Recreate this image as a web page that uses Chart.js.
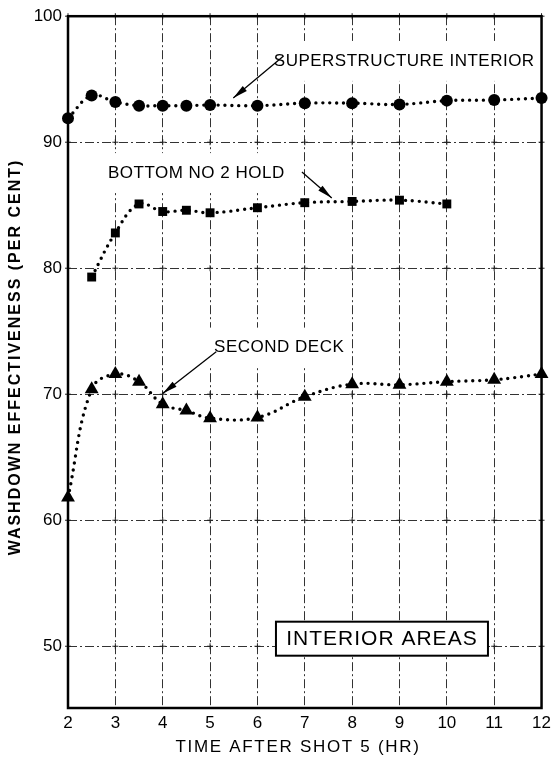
<!DOCTYPE html>
<html lang="en">
<head>
<meta charset="UTF-8">
<title>Washdown Effectiveness - Interior Areas</title>
<script src="https://cdn.jsdelivr.net/npm/chart.js"></script>
<style>
  html, body { margin: 0; padding: 0; background: #fff; }
  #wrap { width: 556px; height: 757px; }
</style>
</head>
<body>
<div id="wrap"><canvas id="chart"></canvas></div>
<script>
// readings, per cent, against hours after shot 5
const hours = [2, 2.5, 3, 3.5, 4, 4.5, 5, 6, 7, 8, 9, 10, 11, 12];
const superstructure = [91.9, 93.7, 93.2, 92.9, 92.9, 92.9, 92.95, 92.9, 93.1, 93.1, 93.0, 93.3, 93.35, 93.5];
const holdHours = [2.5, 3, 3.5, 4, 4.5, 5, 6, 7, 8, 9, 10];
const bottomHold = [79.3, 82.8, 85.1, 84.5, 84.6, 84.4, 84.8, 85.2, 85.3, 85.4, 85.1];
const secondDeck = [61.8, 70.4, 71.6, 71.0, 69.2, 68.7, 68.1, 68.15, 69.8, 70.8, 70.75, 71.0, 71.15, 71.6];

const xTicks = [2, 3, 4, 5, 6, 7, 8, 9, 10, 11, 12];
const yTicks = [50, 60, 70, 80, 90, 100];

const FONT = "'Liberation Sans', Arial, sans-serif";

// callout labels with their pointer arrows (data units)
const callouts = [
  { text: 'SUPERSTRUCTURE INTERIOR', x: 9.1, y: 96.45, from: [6.54, 96.8], to: [5.49, 93.5] },
  { text: 'BOTTOM NO 2 HOLD', x: 4.71, y: 87.55, from: [6.94, 87.64], to: [7.57, 85.58] },
  { text: 'SECOND DECK', x: 6.46, y: 73.7, from: [5.13, 73.38], to: [4.0, 70.05] }
];

function pts(xs, ys) {
  return xs.map((v, i) => ({ x: v, y: ys[i] }));
}

function dotted(label, data, shape, radius) {
  return {
    label, data,
    borderColor: '#000',
    backgroundColor: '#000',
    borderWidth: 3.4,
    borderDash: [0, 7],
    borderCapStyle: 'round',
    tension: 0.4,
    pointStyle: shape,
    pointRadius: radius,
    pointBackgroundColor: '#000',
    pointBorderColor: '#000',
    pointBorderWidth: 0,
    clip: false
  };
}

function arrow(ctx, x1, y1, x2, y2) {
  ctx.beginPath();
  ctx.moveTo(x1, y1);
  ctx.lineTo(x2, y2);
  ctx.stroke();
  const ang = Math.atan2(y2 - y1, x2 - x1);
  const len = 15, half = 3.2;
  const bx = x2 - Math.cos(ang) * len, by = y2 - Math.sin(ang) * len;
  ctx.beginPath();
  ctx.moveTo(x2, y2);
  ctx.lineTo(bx - Math.sin(ang) * half, by + Math.cos(ang) * half);
  ctx.lineTo(bx + Math.sin(ang) * half, by - Math.cos(ang) * half);
  ctx.closePath();
  ctx.fill();
}

const annot = {
  id: 'annot',
  beforeDatasetsDraw(chart) {
    const { ctx, scales: { x, y } } = chart;
    ctx.save();
    // little crosses where the grid lines meet
    ctx.strokeStyle = '#222';
    ctx.lineWidth = 1;
    xTicks.forEach(tx => yTicks.forEach(ty => {
      const px = x.getPixelForValue(tx), py = y.getPixelForValue(ty);
      ctx.beginPath();
      ctx.moveTo(px - 3, py); ctx.lineTo(px + 3, py);
      ctx.moveTo(px, py - 3); ctx.lineTo(px, py + 3);
      ctx.stroke();
    }));
    // blank ground behind the callout text
    ctx.font = '17px ' + FONT;
    ctx.letterSpacing = '0.5px';
    ctx.fillStyle = '#fff';
    callouts.forEach(c => {
      const w = ctx.measureText(c.text).width;
      ctx.fillRect(x.getPixelForValue(c.x) - w / 2 - 6, y.getPixelForValue(c.y) - 20, w + 12, 40);
    });
    ctx.restore();
  },
  afterDatasetsDraw(chart) {
    const { ctx, chartArea: a, scales: { x, y } } = chart;
    ctx.save();
    // heavy frame round the plot
    ctx.strokeStyle = '#000';
    ctx.lineWidth = 2.5;
    ctx.strokeRect(a.left, a.top, a.right - a.left, a.bottom - a.top);

    ctx.fillStyle = '#000';
    ctx.font = '17px ' + FONT;
    ctx.letterSpacing = '0.5px';
    ctx.textAlign = 'center';
    ctx.textBaseline = 'middle';
    ctx.lineWidth = 1.3;
    callouts.forEach(c => {
      ctx.fillText(c.text, x.getPixelForValue(c.x), y.getPixelForValue(c.y));
      arrow(ctx, x.getPixelForValue(c.from[0]), y.getPixelForValue(c.from[1]),
                 x.getPixelForValue(c.to[0]), y.getPixelForValue(c.to[1]));
    });

    // boxed key
    const bx = x.getPixelForValue(8.63), by = y.getPixelForValue(50.6);
    ctx.fillStyle = '#fff';
    ctx.fillRect(bx - 106, by - 17, 212, 34);
    ctx.lineWidth = 2;
    ctx.strokeRect(bx - 106, by - 17, 212, 34);
    ctx.fillStyle = '#000';
    ctx.font = '21px ' + FONT;
    ctx.letterSpacing = '1px';
    ctx.fillText('INTERIOR AREAS', bx, by + 1);
    ctx.restore();
  },
  afterDraw(chart) {
    const { ctx } = chart;
    ctx.save();
    ctx.fillStyle = '#000';
    ctx.textAlign = 'center';
    ctx.textBaseline = 'middle';
    ctx.font = '17px ' + FONT;
    ctx.letterSpacing = '1.7px';
    ctx.fillText('TIME AFTER SHOT 5 (HR)', 298, 747);
    ctx.translate(16, 357);
    ctx.rotate(-Math.PI / 2);
    ctx.font = 'bold 16px ' + FONT;
    ctx.letterSpacing = '2px';
    ctx.fillText('WASHDOWN EFFECTIVENESS (PER CENT)', 0, 0);
    ctx.restore();
  }
};

const gridStyle = {
  color: '#333',
  lineWidth: 1,
  drawTicks: false
};

new Chart(document.getElementById('chart'), {
  type: 'line',
  data: {
    datasets: [
      dotted('Superstructure interior', pts(hours, superstructure), 'circle', 6),
      dotted('Bottom no 2 hold', pts(holdHours, bottomHold), 'rect', 6.3),
      dotted('Second deck', pts(hours, secondDeck), 'triangle', 8)
    ]
  },
  options: {
    responsive: true,
    maintainAspectRatio: false,
    animation: false,
    layout: { padding: { top: 15, right: 12, left: 0, bottom: 0 } },
    plugins: {
      legend: { display: false },
      tooltip: { enabled: false }
    },
    scales: {
      x: {
        type: 'linear',
        min: 2,
        max: 12,
        afterBuildTicks: s => { s.ticks = xTicks.map(v => ({ value: v })); },
        afterFit: s => { s.height = 49; },
        border: { display: false, dash: [9, 3, 2, 3] },
        grid: gridStyle,
        ticks: { color: '#000', padding: 5, font: { family: FONT, size: 17 } }
      },
      y: {
        type: 'linear',
        min: 45.1,
        max: 100,
        afterBuildTicks: s => { s.ticks = yTicks.map(v => ({ value: v })); },
        afterFit: s => { s.width = 68; },
        border: { display: false, dash: [9, 3, 2, 3] },
        grid: gridStyle,
        ticks: { color: '#000', padding: 6, font: { family: FONT, size: 17 } }
      }
    }
  },
  plugins: [annot]
});
</script>
</body>
</html>
